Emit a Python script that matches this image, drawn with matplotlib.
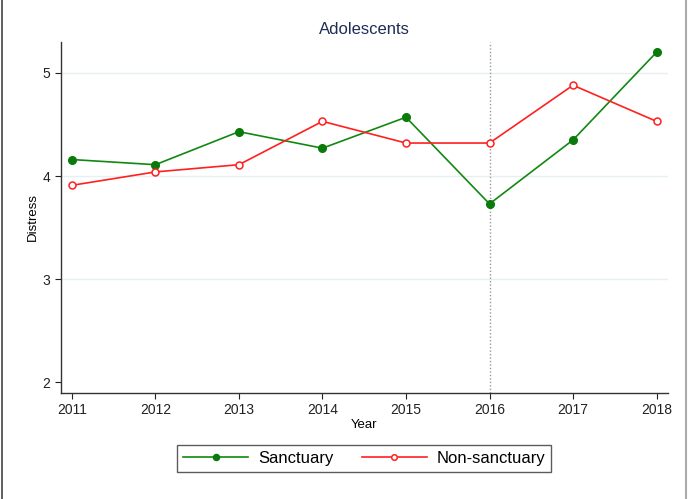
import matplotlib

matplotlib.use("Agg")
import matplotlib.pyplot as plt
from matplotlib.lines import Line2D

plt.rcParams["font.family"] = ["Liberation Sans", "DejaVu Sans"]

years = [2011, 2012, 2013, 2014, 2015, 2016, 2017, 2018]
sanctuary = [4.16, 4.11, 4.43, 4.27, 4.57, 3.73, 4.35, 5.20]
non_sanctuary = [3.91, 4.04, 4.11, 4.53, 4.32, 4.32, 4.88, 4.53]
y_ticks = [2, 3, 4, 5]
policy_year = 2016

fig = plt.figure(figsize=(6.88, 4.99), dpi=100)
ax = fig.add_axes([0.0887, 0.213, 0.882, 0.703])

for yv in y_ticks[1:]:
    ax.axhline(yv, color="#e6eff2", lw=1, zorder=0)
ax.axvline(policy_year, color="#999999", lw=1, ls=(0, (1, 1.5)), zorder=1)

ax.plot(years, sanctuary, color="#118811", lw=1.2, marker="o", ms=5.5,
        mfc="#0a7a0a", mec="#0a7a0a", label="Sanctuary", zorder=3)
ax.plot(years, non_sanctuary, color="#ff2020", lw=1.2, marker="o", ms=5,
        mfc="white", mec="#ff2020", mew=1.1, label="Non-sanctuary", zorder=3)

ax.set_xlim(2010.87, 2018.135)
ax.set_ylim(1.9, 5.3)
ax.set_xticks(years)
ax.set_yticks(y_ticks)
ax.tick_params(labelsize=10, colors="#222222", length=4)
for side in ("top", "right"):
    ax.spines[side].set_visible(False)
for side in ("left", "bottom"):
    ax.spines[side].set_color("#333333")
    ax.spines[side].set_linewidth(1.0)

ax.set_title("Adolescents", fontsize=12, color="#1f2d55", pad=6)
ax.set_xlabel("Year", fontsize=9.5, labelpad=1)
ax.set_ylabel("Distress", fontsize=9.5, labelpad=3)

leg = ax.legend(loc="upper center", bbox_to_anchor=(0.5, -0.125), ncol=2,
                fontsize=12, frameon=True, fancybox=False, edgecolor="#333333",
                handlelength=3.9, handletextpad=0.6, columnspacing=1.7,
                borderpad=0.35, markerscale=0.8)
leg.get_frame().set_linewidth(1.0)

# outer figure borders
fig.add_artist(Line2D([0.003, 0.003], [0, 1], transform=fig.transFigure,
                      color="#444444", lw=1.2))
fig.add_artist(Line2D([0.997, 0.997], [0, 1], transform=fig.transFigure,
                      color="#aaaaaa", lw=1.5))

fig.savefig("out.png", dpi=100)
